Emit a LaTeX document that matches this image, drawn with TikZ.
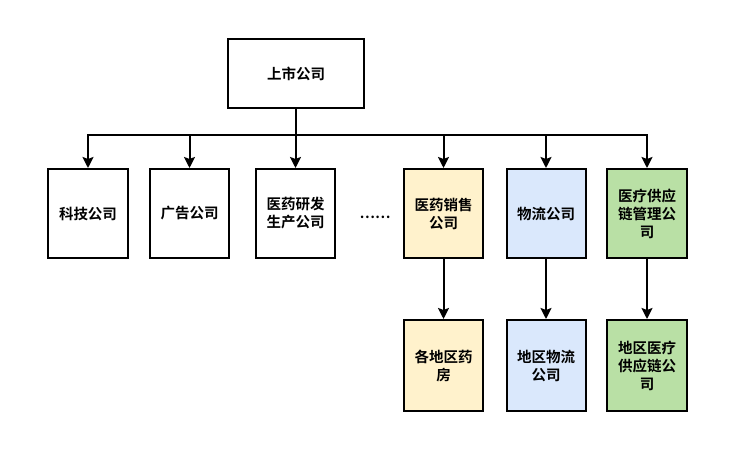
\documentclass[tikz,border=0pt]{standalone}
\usepackage{fontspec}
\setmainfont{Noto Sans CJK SC}[BoldFont={* Bold}]
\newfontfamily\cjk{Noto Sans CJK SC Bold}
\usetikzlibrary{arrows.meta}
\definecolor{fyellow}{HTML}{FFF2CC}
\definecolor{fblue}{HTML}{DAE8FC}
\definecolor{fgreen}{HTML}{B9E0A5}
\tikzset{
  box/.style={draw=black, line width=2pt, inner sep=0pt, align=center,
    font=\cjk\fontsize{14.5}{18}\selectfont},
  conn/.style={line width=2pt, -{Stealth[length=11pt,width=11pt,inset=2pt]}},
  plain/.style={line width=2pt}
}
\begin{document}
\begin{tikzpicture}[x=1pt,y=-1pt]
\fill[white] (0,0) rectangle (737,462);
\useasboundingbox (0,0) rectangle (737,462);
\node[box, minimum width=136pt, minimum height=69pt] (top) at (296,73.5) {上市公司};
\node[box, minimum width=80pt, minimum height=89pt] (a) at (88,213.5) {科技公司};
\node[box, minimum width=79pt, minimum height=89pt] (b) at (189.5,213.5) {广告公司};
\node[box, minimum width=79pt, minimum height=89pt] (c) at (295.5,213.5) {医药研发\\生产公司};
\node[font=\cjk\fontsize{14}{18}\selectfont] (dots) at (375,217) {……};
\node[box, fill=fyellow, minimum width=79pt, minimum height=89pt] (d) at (443.5,213.5) {医药销售\\公司};
\node[box, fill=fblue, minimum width=79pt, minimum height=89pt] (e) at (546,213.5) {物流公司};
\node[box, fill=fgreen, minimum width=80pt, minimum height=89pt] (f) at (647,213.5) {医疗供应\\链管理公\\司};
\node[box, fill=fyellow, minimum width=79pt, minimum height=91pt] (d2) at (443.5,365.5) {各地区药\\房};
\node[box, fill=fblue, minimum width=79pt, minimum height=91pt] (e2) at (546,365.5) {地区物流\\公司};
\node[box, fill=fgreen, minimum width=80pt, minimum height=91pt] (f2) at (647,365.5) {地区医疗\\供应链公\\司};
\coordinate (bus) at (296,135);
\coordinate (busL) at (88,135);
\coordinate (busR) at (647,135);
\draw[plain] (top.south) -- (bus);
\draw[plain, line cap=rect] (busL) -- (busR);
\foreach \n in {a,b,c,d,e,f}{
  \draw[conn] (\n.north |- bus) -- (\n.north);
}
\draw[conn] (d.south) -- (d2.north);
\draw[conn] (e.south) -- (e2.north);
\draw[conn] (f.south) -- (f2.north);
\end{tikzpicture}
\end{document}
